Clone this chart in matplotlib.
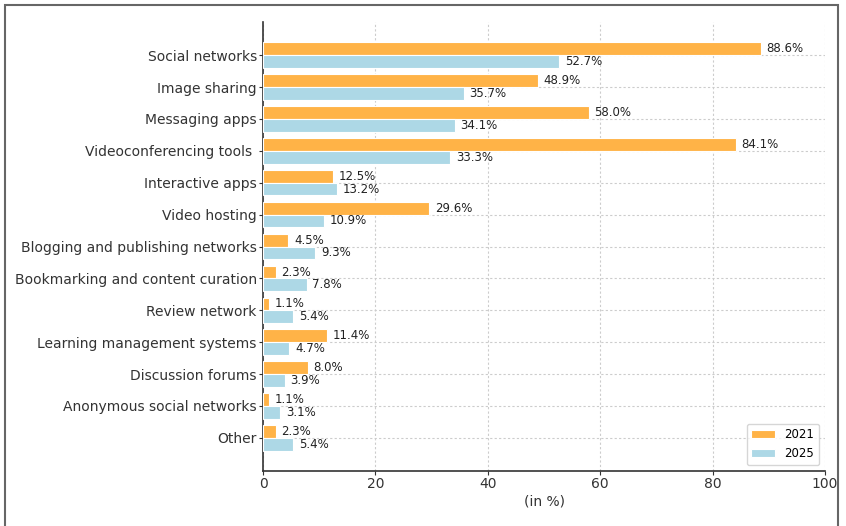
import matplotlib
matplotlib.use("Agg")
import matplotlib.pyplot as plt
import numpy as np
from matplotlib.patches import Rectangle

categories = [
    "Social networks",
    "Image sharing",
    "Messaging apps",
    "Videoconferencing tools ",
    "Interactive apps",
    "Video hosting",
    "Blogging and publishing networks",
    "Bookmarking and content curation",
    "Review network",
    "Learning management systems",
    "Discussion forums",
    "Anonymous social networks",
    "Other",
]
values_2021 = [88.6, 48.9, 58.0, 84.1, 12.5, 29.6, 4.5, 2.3, 1.1, 11.4, 8.0, 1.1, 2.3]
values_2025 = [52.7, 35.7, 34.1, 33.3, 13.2, 10.9, 9.3, 7.8, 5.4, 4.7, 3.9, 3.1, 5.4]
series_labels = ["2021", "2025"]
x_ticks = [0, 20, 40, 60, 80, 100]

color_2021 = "#FFB347"
color_2025 = "#ADD8E6"

fig = plt.figure(figsize=(8.46, 5.26), dpi=100)
ax = fig.add_axes([263 / 846, 1 - 471 / 526, (825 - 263) / 846, (471 - 22) / 526])

y = np.arange(len(categories))
h = 0.4
bars1 = ax.barh(y - h / 2, values_2021, height=h, color=color_2021, label=series_labels[0],
                edgecolor="white", linewidth=0.8, zorder=3)
bars2 = ax.barh(y + h / 2, values_2025, height=h, color=color_2025, label=series_labels[1],
                edgecolor="white", linewidth=0.8, zorder=3)

for bars, vals in ((bars1, values_2021), (bars2, values_2025)):
    for b, v in zip(bars, vals):
        ax.text(v + 1, b.get_y() + b.get_height() / 2, f"{v:.1f}%",
                va="center", ha="left", fontsize=8.5, color="#222222", zorder=4)

ax.set_yticks(y)
ax.set_yticklabels(categories, fontsize=10, color="#333333")
ax.invert_yaxis()
ax.set_xlim(0, 100)
ax.set_xticks(x_ticks)
ax.tick_params(axis="x", labelsize=10, colors="#333333")
ax.tick_params(axis="both", length=3, pad=1.5, color="#333333")
ax.set_xlabel("(in %)", fontsize=10, color="#333333", labelpad=2)

ax.grid(True, linestyle=(0, (2, 2)), color="#cccccc", linewidth=0.8, zorder=0)
ax.set_axisbelow(True)
for side in ("top", "right"):
    ax.spines[side].set_visible(False)
for side in ("left", "bottom"):
    ax.spines[side].set_color("#333333")
    ax.spines[side].set_linewidth(1.2)

leg = ax.legend(loc="lower right", fontsize=8.5, frameon=True, handlelength=2.0,
                borderaxespad=0.5)
leg.get_frame().set_edgecolor("#cccccc")

fig.patches.append(Rectangle((5 / 846, -0.02), (838 - 5) / 846, 1.02 - 5 / 526,
                             transform=fig.transFigure, fill=False,
                             edgecolor="#666666", linewidth=1.5))

fig.savefig("out.png", dpi=100)
